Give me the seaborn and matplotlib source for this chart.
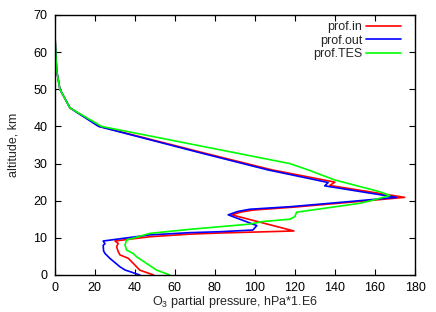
import matplotlib
matplotlib.use("Agg")
import matplotlib.pyplot as plt
import seaborn as sns

# ozone profiles (x = partial pressure, alt = km)
alt_in = [70, 65, 60, 55, 50, 45, 40, 33, 28.3, 25.0, 24.1, 20.9, 19.7, 18.3,
          17.5, 17.0, 16.2, 11.85, 11.3, 11.0, 10.3, 9.15, 8.5, 7.6, 6.3, 5.4,
          4.5, 3.6, 2.2, 1.3, 0]
x_in = [0, 0.2, 0.6, 1.1, 2.7, 7.7, 22.5, 73.5, 108.5, 140.0, 137.4, 174.8,
        150, 120, 99.5, 93.5, 88.4, 119.5, 82.5, 67.6, 47.6, 30.2, 31.8, 31.0,
        31.8, 32.7, 36.8, 38.5, 41, 42.6, 49.5]

alt_out = [70, 65, 60, 55, 50, 45, 40, 33, 28.3, 24.9, 24.0, 20.9, 19.8, 18.4,
           17.7, 17.1, 16.2, 13.3, 12.1, 11.65, 11.4, 10.8, 9.15, 8.4, 8.0,
           6.5, 5.8, 4.5, 2.2, 1.35, 0]
x_out = [0, 0.2, 0.6, 1.1, 2.7, 7.7, 22, 72, 106.5, 136.6, 134.9, 170.7,
         148, 118, 97.5, 91.5, 86.7, 101, 99, 82.5, 67.6, 47.6, 24.3, 25.2,
         24.3, 24.5, 25.2, 27.6, 32.7, 35.2, 42.6]

alt_tes = [70, 65, 60, 55, 50, 45, 40, 30, 28.3, 25.6, 22.4, 21.4, 20.0, 19.3,
           16.9, 15.7, 15.0, 14.4, 13.7, 13.0, 12.3, 11.2, 9.4, 8.1, 6.7, 5.8,
           4.9, 3.1, 1.3, 0]
x_tes = [0, 0.2, 0.6, 1.1, 2.7, 7.7, 23.5, 117.4, 126.6, 139.8, 162.5, 167.4,
         158, 152.4, 120.8, 120, 117.4, 104, 97.5, 82.5, 67.6, 47.6, 36, 35.2,
         36, 39.3, 41, 46, 51, 57.6]

x_ticks = [0, 20, 40, 60, 80, 100, 120, 140, 160, 180]
y_ticks = [0, 10, 20, 30, 40, 50, 60, 70]

sns.set_style("ticks")
plt.rcParams['font.family'] = ['Liberation Sans', 'DejaVu Sans']
plt.rcParams['mathtext.fontset'] = 'custom'
plt.rcParams['mathtext.rm'] = 'Liberation Sans'
plt.rcParams['mathtext.it'] = 'Liberation Sans'

fig = plt.figure(figsize=(4.36, 3.12), dpi=100)
ax = fig.add_axes([0.125, 0.1186, 0.827, 0.8334])

sns.lineplot(x=x_in, y=alt_in, sort=False, estimator=None, color='#ff0000',
             lw=1.2, label='prof.in', ax=ax)
sns.lineplot(x=x_out, y=alt_out, sort=False, estimator=None, color='#0000ff',
             lw=1.2, label='prof.out', ax=ax)
sns.lineplot(x=x_tes, y=alt_tes, sort=False, estimator=None, color='#00ff00',
             lw=1.2, label='prof.TES', ax=ax)

ax.set_xlim(0, 180)
ax.set_ylim(0, 70)
ax.set_xticks(x_ticks)
ax.set_yticks(y_ticks)
ax.tick_params(direction='in', length=4, width=0.8, top=True, right=True,
               labelsize=9, colors='black', pad=5)
for s in ax.spines.values():
    s.set_visible(True)
    s.set_color('black')
    s.set_linewidth(1.0)

ax.set_xlabel('O$_3$ partial pressure, hPa*1.E6', fontsize=9, labelpad=0)
ax.set_ylabel('altitude, km', fontsize=9, labelpad=10)

ax.legend(loc='upper right', bbox_to_anchor=(0.961, 0.975), frameon=False,
          markerfirst=False, fontsize=9, handlelength=2.8, handletextpad=0.3,
          labelspacing=0.1, borderpad=0, borderaxespad=0)

fig.savefig('out.png', dpi=100)
